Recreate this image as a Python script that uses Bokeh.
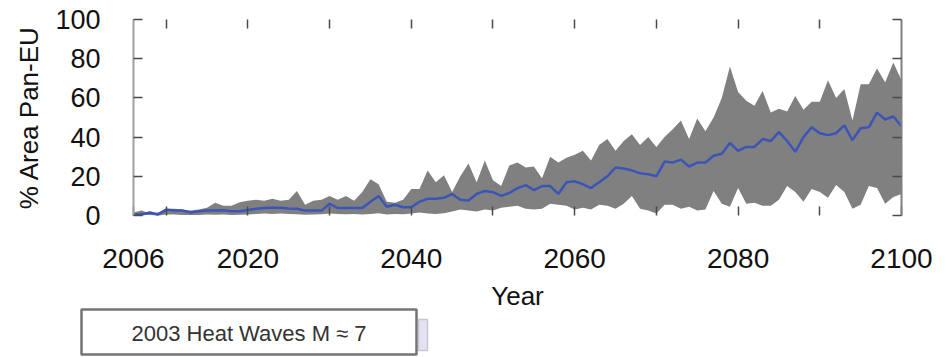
from bokeh.plotting import figure
from bokeh.models import ColumnDataSource, LinearAxis, FixedTicker, Range1d, Label, BoxAnnotation
from bokeh.embed import file_html
from bokeh.resources import INLINE

# ---------------- data ----------------
years = list(range(2006, 2101))

upper = [1.5, 2.5, 1.0, 1.5, 3.5, 3.5, 3.0, 2.5, 3.0, 4.0,
         6.5, 5.0, 5.0, 6.8, 7.5, 8.0, 7.5, 8.5, 7.5, 8.0,
         12.5, 5.5, 7.5, 8.0, 10.0, 8.0, 10.0, 7.5, 12.0, 18.5,
         16.0, 7.0, 6.5, 8.0, 13.5, 13.5, 23.0, 17.0, 20.5, 12.0,
         20.0, 26.5, 17.0, 28.0, 18.0, 15.0, 25.5, 27.0, 24.5, 25.0,
         19.0, 30.0, 27.0, 29.5, 31.0, 33.0, 28.0, 36.0, 39.0, 33.0,
         38.0, 41.5, 36.0, 40.0, 35.0, 40.0, 44.0, 48.5, 39.0, 49.5,
         43.0, 50.0, 60.0, 76.0, 63.0, 58.5, 56.0, 63.5, 52.5, 54.5,
         53.0, 61.0, 54.0, 58.0, 58.0, 69.0, 60.0, 64.5, 48.5, 67.0,
         67.0, 75.0, 68.0, 78.0, 69.0]

mean = [0.5, 0.5, 1.5, 0.5, 3.0, 2.5, 2.5, 1.5, 2.2, 2.5,
        2.5, 2.7, 2.2, 2.2, 2.8, 3.4, 3.8, 4.0, 4.0, 3.6,
        3.4, 2.5, 2.5, 2.5, 6.0, 3.8, 3.8, 3.8, 3.8, 7.0,
        10.0, 4.5, 5.5, 4.2, 4.2, 7.0, 8.5, 8.5, 9.0, 11.0,
        8.0, 7.7, 11.0, 12.5, 11.9, 10.0, 11.5, 14.0, 15.5, 13.0,
        15.0, 15.0, 11.0, 17.0, 17.5, 16.0, 14.0, 17.0, 20.0, 24.5,
        24.0, 23.0, 21.5, 21.0, 20.0, 27.5, 27.0, 28.5, 25.0, 27.0,
        27.0, 30.5, 31.5, 37.0, 33.0, 35.0, 35.0, 39.0, 38.0, 42.5,
        38.0, 32.5, 40.0, 45.0, 42.0, 41.0, 42.0, 46.0, 38.5, 44.5,
        45.0, 52.5, 49.0, 50.5, 45.5]

lower = [0.0, 0.2, 0.3, 0.0, 0.5, 0.5, 0.3, 0.2, 0.3, 0.5,
         0.4, 0.5, 0.3, 0.4, 0.5, 0.8, 1.0, 0.8, 1.0, 0.8,
         0.6, 0.4, 0.5, 0.6, 1.0, 0.8, 0.6, 0.8, 0.5, 0.8,
         1.2, 0.5, 0.8, 0.6, 1.0, 1.5, 1.0, 0.8, 1.2, 2.0,
         3.0, 2.5, 2.0, 3.0, 2.5, 4.0, 4.5, 5.0, 3.5, 3.0,
         3.5, 6.0, 5.5, 5.0, 3.0, 4.0, 3.0, 5.5, 5.0, 3.5,
         6.0, 10.0, 3.5, 2.5, 1.0, 5.5, 5.5, 3.5, 4.5, 2.5,
         3.0, 12.5, 6.0, 4.5, 14.0, 6.0, 6.5, 5.0, 5.0, 8.0,
         15.0, 12.0, 7.0, 13.5, 12.0, 9.0, 15.5, 12.0, 3.5, 5.5,
         15.0, 14.0, 6.0, 9.5, 11.0]

x_label_ticks = [2006, 2020, 2040, 2060, 2080, 2100]
x_tick_labels = ["2006", "2020", "2040", "2060", "2080", "2100"]
x_minor_ticks = [2010, 2030, 2050, 2070, 2090]
x_all_ticks = [2010, 2020, 2030, 2040, 2050, 2060, 2070, 2080, 2090]
y_ticks = [0, 20, 40, 60, 80, 100]
y_tick_labels = ["0", "20", "40", "60", "80", "100"]

x_title = "Year"
y_title = "% Area Pan-EU"
note_text = "2003 Heat Waves M \u2248 7"

# ---------------- layout ----------------
W, H = 940, 357
AX_L, AX_T = 133, 19          # canvas px of the data box corner (2006, 100)
AX_W, AX_H = 768, 196         # data box size in px
X0, X1, Y0, Y1 = 2006, 2100, 0, 100
PPX = AX_W / (X1 - X0)
PPY = AX_H / (Y1 - Y0)
XS = X0 - AX_L / PPX
XE = XS + W / PPX
YE = Y1 + AX_T / PPY
YS = YE - H / PPY
FONT = "Liberation Sans"

def dx(px):  # canvas px -> data x
    return XS + px / PPX

def dy(py):  # canvas px -> data y
    return YE - py / PPY

p = figure(width=W, height=H, x_range=Range1d(XS, XE), y_range=Range1d(YS, YE),
           x_axis_location=None, y_axis_location=None,
           toolbar_location=None, output_backend="svg",
           min_border_left=0, min_border_right=0, min_border_top=0, min_border_bottom=0)
p.outline_line_color = None
p.background_fill_color = "white"
p.border_fill_color = "white"
p.xgrid.visible = False
p.ygrid.visible = False

src = ColumnDataSource(dict(year=years, upper=upper, mean=mean, lower=lower))
p.varea(x="year", y1="lower", y2="upper", source=src, fill_color="#808080", fill_alpha=1.0)
p.line(x="year", y="mean", source=src, line_color="#3a55b6", line_width=2.5)

def style_axis(ax, line_color, show_labels, size="27px", standoff=0):
    ax.major_tick_in = 9
    ax.major_tick_out = 0
    ax.minor_tick_in = 9
    ax.minor_tick_out = 0
    ax.major_tick_line_color = "#4a4a4a"
    ax.major_tick_line_width = 1.5
    ax.minor_tick_line_color = "#4a4a4a"
    ax.minor_tick_line_width = 1.5
    ax.axis_line_color = line_color
    ax.axis_line_width = 2
    ax.major_label_text_font = FONT
    if show_labels:
        ax.major_label_text_color = "#111111"
        ax.major_label_text_font_size = size
        ax.major_label_standoff = standoff
    else:
        ax.major_label_text_color = None
        ax.major_label_text_font_size = "1px"
        ax.major_label_standoff = 0

left = LinearAxis(ticker=FixedTicker(ticks=y_ticks), fixed_location=X0, bounds=(Y0, Y1),
                  major_label_overrides={t: l for t, l in zip(y_ticks, y_tick_labels)})
style_axis(left, "#a0a0a0", True, "27px", 33)
left.axis_label = y_title
left.axis_label_text_font = FONT
left.axis_label_text_font_size = "26px"
left.axis_label_text_font_style = "normal"
left.axis_label_text_color = "#111111"
left.axis_label_standoff = 8
p.add_layout(left, "left")

right = LinearAxis(ticker=FixedTicker(ticks=y_ticks), fixed_location=X1, bounds=(Y0, Y1))
style_axis(right, "#808080", False)
p.add_layout(right, "right")

bottom = LinearAxis(ticker=FixedTicker(ticks=x_label_ticks, minor_ticks=x_minor_ticks),
                    fixed_location=Y0, bounds=(X0, X1),
                    major_label_overrides={t: l for t, l in zip(x_label_ticks, x_tick_labels)})
style_axis(bottom, None, True, "28px", 33)
bottom.axis_label = x_title
bottom.axis_label_text_font = FONT
bottom.axis_label_text_font_size = "26px"
bottom.axis_label_text_font_style = "normal"
bottom.axis_label_text_color = "#111111"
bottom.axis_label_standoff = 10
p.add_layout(bottom, "below")

top = LinearAxis(ticker=FixedTicker(ticks=x_all_ticks), fixed_location=Y1, bounds=(X0, X1))
style_axis(top, None, False)
p.add_layout(top, "above")

# note box below the chart (with a small lavender shadow tab on its right)
shadow = BoxAnnotation(left=dx(418), right=dx(427), top=dy(319), bottom=dy(350),
                       fill_color="#e2e2f4", fill_alpha=1.0, line_color="#c8c8d0",
                       line_alpha=1.0, line_width=1.5)
p.add_layout(shadow)
box = BoxAnnotation(left=dx(81), right=dx(416), top=dy(309), bottom=dy(354),
                    fill_color="#ffffff", fill_alpha=1.0, line_color="#757575",
                    line_alpha=1.0, line_width=2.5)
p.add_layout(box)
note = Label(x=dx(248.5), y=dy(333), text=note_text, text_align="center", text_baseline="middle",
             text_font=FONT, text_font_size="22px", text_color="#333333")
p.add_layout(note)

open("out.html", "w").write(file_html(p, INLINE))
